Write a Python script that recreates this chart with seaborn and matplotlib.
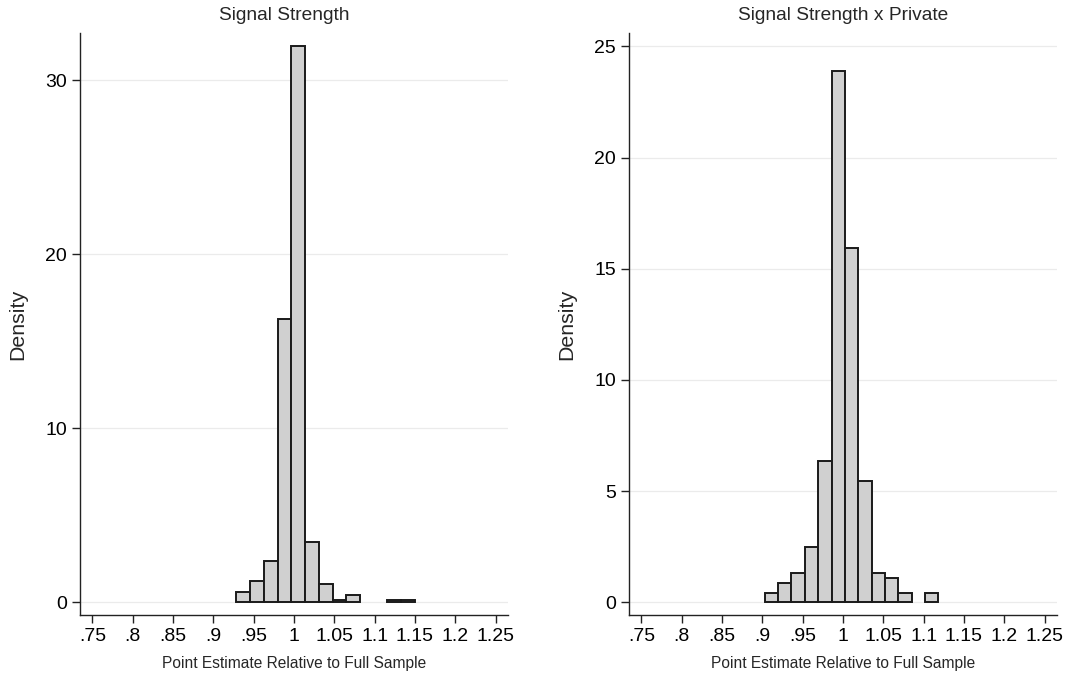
import numpy as np
import pandas as pd
import matplotlib
matplotlib.use("Agg")
import matplotlib.pyplot as plt
import seaborn as sns

# ---- data ----
titles = ["Signal Strength", "Signal Strength x Private"]
xlabel = "Point Estimate Relative to Full Sample"
ylabel = "Density"

# Panel 1: histogram bins (start, width) and density heights
left_start = 0.9286
left_width = 0.01703
left_density = [0.61, 1.26, 2.37, 16.3, 31.95, 3.47, 1.07, 0.17, 0.40, 0.0, 0.0, 0.17, 0.17]

# Panel 2
right_start = 0.9029
right_width = 0.01657
right_density = [0.44, 0.88, 1.33, 2.49, 6.34, 23.9, 15.95, 5.45, 1.33, 1.11, 0.44, 0.0, 0.44]

x_ticks = [0.75, 0.80, 0.85, 0.90, 0.95, 1.00, 1.05, 1.10, 1.15, 1.20, 1.25]
x_ticklabels = [".75", ".8", ".85", ".9", ".95", "1", "1.05", "1.1", "1.15", "1.2", "1.25"]
left_yticks = [0, 10, 20, 30]
right_yticks = [0, 5, 10, 15, 20, 25]

sns.set_theme(style="white")
plt.rcParams['font.family'] = ['Liberation Sans', 'DejaVu Sans']

fig = plt.figure(figsize=(10.68, 6.75), dpi=100)
ax1 = fig.add_axes([80 / 1068, 60 / 675, 428 / 1068, 582 / 675])
ax2 = fig.add_axes([629 / 1068, 60 / 675, 428 / 1068, 582 / 675])

panels = [
    (ax1, left_start, left_width, left_density, left_yticks, (-0.72, 32.7), titles[0], 0.477),
    (ax2, right_start, right_width, right_density, right_yticks, (-0.57, 25.6), titles[1], 0.5),
]

for ax, start, width, dens, yticks, ylim, title, tx in panels:
    n = len(dens)
    edges = start + width * np.arange(n + 1)
    centers = (edges[:-1] + edges[1:]) / 2
    df = pd.DataFrame({"x": centers, "w": dens})
    sns.histplot(data=df, x="x", weights="w", bins=n,
                 binrange=(float(edges[0]), float(edges[-1])), stat="count",
                 color="#d0d0d0", edgecolor="#1a1a1a", linewidth=1.4,
                 alpha=1, ax=ax)
    for p in ax.patches:
        if p.get_height() <= 0:
            p.set_visible(False)
    ax.set_xlim(0.7345, 1.2655)
    ax.set_ylim(*ylim)
    ax.set_xticks(x_ticks)
    ax.set_xticklabels(x_ticklabels)
    ax.set_yticks(yticks)
    ax.set_yticklabels([str(t) for t in yticks])
    ax.yaxis.grid(True, color="#ebebeb", linewidth=0.9)
    ax.xaxis.grid(False)
    ax.set_axisbelow(True)
    for s in ["top", "right"]:
        ax.spines[s].set_visible(False)
    for s in ["left", "bottom"]:
        ax.spines[s].set_color("#222222")
        ax.spines[s].set_linewidth(1.0)
    ax.tick_params(axis="both", which="major", direction="out", length=5.5,
                   width=1.0, color="#222222", labelsize=14, labelcolor="black",
                   bottom=True, left=True, pad=4)
    ax.set_xlabel(xlabel, fontsize=11.2, labelpad=8)
    ax.set_ylabel(ylabel, fontsize=15.4, labelpad=13)
    ax.set_title(title, fontsize=13.8, pad=9, x=tx)

fig.savefig("out.png", dpi=100)
